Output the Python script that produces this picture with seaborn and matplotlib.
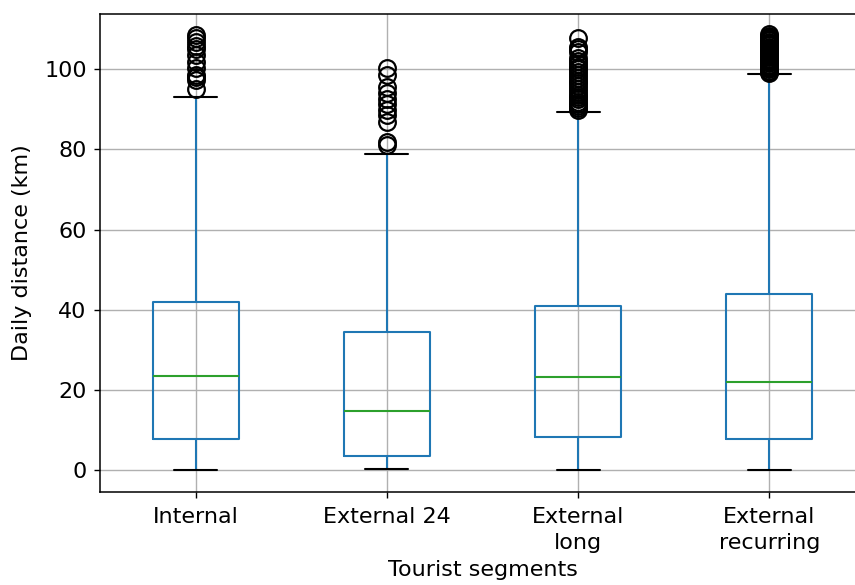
import matplotlib
matplotlib.use("Agg")
import matplotlib.pyplot as plt
import seaborn as sns

categories = ["Internal", "External 24", "External\nlong", "External\nrecurring"]
whislo = [0.2, 0.3, 0.2, 0.2]
q1 = [7.7, 3.6, 8.2, 7.7]
med = [23.6, 14.7, 23.2, 21.9]
q3 = [42.0, 34.4, 40.9, 44.0]
whishi = [93.1, 78.9, 89.4, 98.8]
outliers_internal = [95.0, 97.2, 97.9, 98.6, 100.2, 101.8, 103.5, 105.0, 105.8, 106.7, 107.6, 108.4]
outliers_ext24 = [81.1, 81.8, 86.8, 88.6, 89.8, 91.2, 92.5, 94.0, 95.6, 98.5, 100.3]
outliers_extlong = [89.8, 90.2, 90.7, 91.2, 91.8, 92.4, 93.0, 93.6, 94.3, 95.0, 95.7, 96.4,
                    97.1, 97.8, 98.5, 99.2, 99.9, 100.6, 101.3, 102.0, 102.8, 104.2, 105.0,
                    105.6, 107.6]
outliers_extrec = [99.0, 99.3, 99.6, 99.9, 100.2, 100.5, 100.8, 101.1, 101.4, 101.7, 102.0,
                   102.3, 102.6, 102.9, 103.2, 103.5, 103.8, 104.1, 104.4, 104.7, 105.0,
                   105.3, 105.6, 105.9, 106.2, 106.5, 106.8, 107.1, 107.4, 107.7, 108.0,
                   108.3, 108.6]
fliers = [outliers_internal, outliers_ext24, outliers_extlong, outliers_extrec]

sns.set_theme(style="whitegrid", rc={
    "axes.edgecolor": "black",
    "axes.linewidth": 1.1,
    "grid.color": "#b0b0b0",
    "grid.linewidth": 1.0,
    "xtick.bottom": True,
    "ytick.left": True,
    "xtick.major.size": 4.5,
    "ytick.major.size": 4.5,
    "xtick.major.width": 1.0,
    "ytick.major.width": 1.0,
    "xtick.color": "black",
    "ytick.color": "black",
    "axes.labelcolor": "black",
})
plt.rcParams["font.family"] = ["DejaVu Sans"]

fig = plt.figure(figsize=(8.55, 5.85), dpi=100)
ax = fig.add_axes([100 / 855, 1 - 492 / 585, 765 / 855, (492 - 14) / 585])

stats = []
for i in range(len(categories)):
    stats.append(dict(whislo=whislo[i], q1=q1[i], med=med[i], q3=q3[i],
                      whishi=whishi[i], fliers=fliers[i], label=categories[i]))

ax.bxp(stats, positions=[1, 2, 3, 4], widths=0.45,
       boxprops=dict(color="#1f77b4", linewidth=1.5),
       whiskerprops=dict(color="#1f77b4", linewidth=1.5),
       capprops=dict(color="black", linewidth=1.5),
       medianprops=dict(color="#2ca02c", linewidth=1.5),
       flierprops=dict(marker="o", markerfacecolor="none", markeredgecolor="black",
                       markersize=12, markeredgewidth=1.6))

ax.set_xlim(0.5, 4.5)
ax.set_ylim(-5.4, 113.7)
ax.set_yticks([0, 20, 40, 60, 80, 100])
ax.grid(True, axis="both")
ax.set_axisbelow(True)
ax.tick_params(axis="x", labelsize=16, pad=6.5)
ax.tick_params(axis="y", labelsize=16, pad=5)
for lbl in ax.get_xticklabels():
    lbl.set_linespacing(1.35)
ax.set_xlabel("Tourist segments", fontsize=16, labelpad=5)
ax.set_ylabel("Daily distance (km)", fontsize=16, labelpad=9)
for s in ax.spines.values():
    s.set_color("black")

fig.savefig("out.png", dpi=100)
